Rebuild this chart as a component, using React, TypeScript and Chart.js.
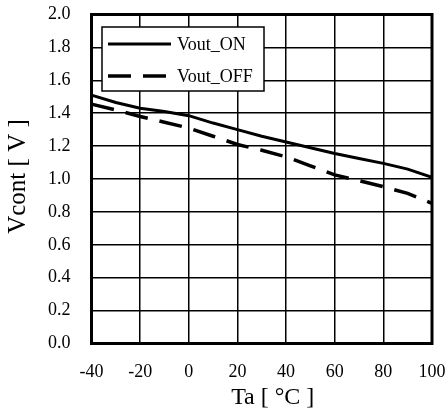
import React, { useEffect, useRef } from "react";
import { Chart, registerables } from "chart.js";

Chart.register(...registerables);

const temps = [-40, -30, -20, -10, 0, 10, 20, 30, 40, 50, 60, 70, 80, 90, 100];
const voutOn = [1.51, 1.465, 1.43, 1.41, 1.385, 1.34, 1.3, 1.26, 1.225, 1.19, 1.155, 1.125, 1.095, 1.06, 1.01];
const voutOff = [1.455, 1.42, 1.38, 1.345, 1.31, 1.26, 1.21, 1.175, 1.135, 1.08, 1.025, 0.99, 0.953, 0.913, 0.852];
const seriesNames = ["Vout_ON", "Vout_OFF"];
const xTitle = "Ta [ °C ]";
const yTitle = "Vcont [ V ]";

const FONT = "'Liberation Serif', 'Times New Roman', serif";

const framePlugin = {
  id: "frameAndLegend",
  afterDraw(chart: any) {
    const { ctx, chartArea } = chart;
    ctx.save();
    ctx.strokeStyle = "#000";
    ctx.lineWidth = 3;
    ctx.strokeRect(chartArea.left, chartArea.top, chartArea.right - chartArea.left, chartArea.bottom - chartArea.top);

    // axis titles
    ctx.fillStyle = "#000";
    ctx.textAlign = "center";
    ctx.textBaseline = "middle";
    ctx.font = `24px ${FONT}`;
    ctx.fillText(xTitle, (chartArea.left + chartArea.right) / 2 + 11, chartArea.bottom + 54);
    ctx.save();
    ctx.translate(18.5, (chartArea.top + chartArea.bottom) / 2 - 2.5);
    ctx.rotate(-Math.PI / 2);
    ctx.font = `25px ${FONT}`;
    ctx.fillText(yTitle, 0, 0);
    ctx.restore();

    // legend box
    const bx = chartArea.left + 10.5;
    const by = chartArea.top + 12.5;
    const bw = 162;
    const bh = 64;
    ctx.fillStyle = "#fff";
    ctx.fillRect(bx, by, bw, bh);
    ctx.strokeStyle = "#000";
    ctx.lineWidth = 1.5;
    ctx.strokeRect(bx, by, bw, bh);
    const rows = [by + 17, by + 49];
    chart.data.datasets.forEach((ds: any, i: number) => {
      const y = rows[i];
      ctx.beginPath();
      ctx.setLineDash(ds.borderDash || []);
      ctx.lineWidth = ds.borderWidth;
      ctx.strokeStyle = ds.borderColor;
      ctx.moveTo(bx + 6, y);
      ctx.lineTo(bx + 69, y);
      ctx.stroke();
      ctx.setLineDash([]);
      ctx.fillStyle = "#000";
      ctx.font = `18px ${FONT}`;
      ctx.textBaseline = "middle";
      ctx.textAlign = "left";
      ctx.fillText(ds.label, bx + 75, y + 1);
    });
    ctx.restore();
  },
};

export default function App() {
  const ref = useRef<HTMLCanvasElement>(null);
  useEffect(() => {
    const chart = new Chart(ref.current!, {
      type: "line",
      data: {
        datasets: [
          {
            label: seriesNames[0],
            data: temps.map((t, i) => ({ x: t, y: voutOn[i] })),
            borderColor: "#000",
            borderWidth: 3,
            pointRadius: 0,
            tension: 0,
          },
          {
            label: seriesNames[1],
            data: temps.map((t, i) => ({ x: t, y: voutOff[i] })),
            borderColor: "#000",
            borderWidth: 3.5,
            borderDash: [23, 12],
            pointRadius: 0,
            tension: 0,
          },
        ],
      },
      options: {
        animation: false,
        responsive: false,
        devicePixelRatio: 1,
        layout: { padding: { top: 14.5, right: 13, left: 0, bottom: 0 } },
        plugins: { legend: { display: false }, tooltip: { enabled: false } },
        scales: {
          x: {
            type: "linear",
            min: -40,
            max: 100,
            afterFit: (s: any) => { s.height = 68.5; s.paddingLeft = 0; s.paddingRight = 0; },
            ticks: { stepSize: 20, color: "#000", padding: 18, font: { family: FONT, size: 18 }, maxRotation: 0 },
            grid: { color: "#000", lineWidth: 1.5, drawTicks: false },
            border: { display: false },
            title: { display: false },
          },
          y: {
            min: 0,
            max: 2,
            afterFit: (s: any) => { s.width = 91.5; s.paddingTop = 0; s.paddingBottom = 0; },
            ticks: { stepSize: 0.2, color: "#000", padding: 21, font: { family: FONT, size: 18 }, callback: (v: any) => Number(v).toFixed(1) },
            grid: { color: "#000", lineWidth: 1.5, drawTicks: false },
            border: { display: false },
            title: { display: false },
          },
        },
      },
      plugins: [framePlugin],
    } as any);
    return () => chart.destroy();
  }, []);
  return (
    <div style={{ position: "fixed", left: 0, top: 0, width: 445, height: 412, background: "#fff" }}>
      <canvas ref={ref} width={445} height={412} />
    </div>
  );
}
